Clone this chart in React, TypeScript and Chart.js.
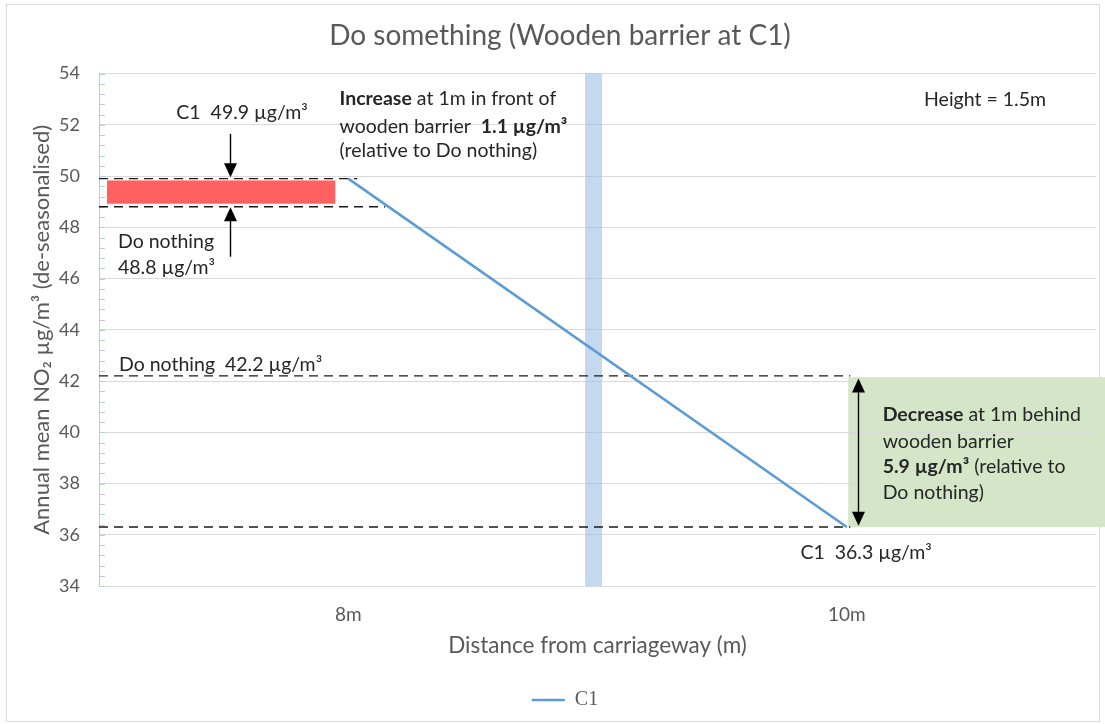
import React, { useEffect, useRef } from 'react';
import { Chart, registerables } from 'chart.js';

Chart.register(...registerables);

// ---------- data ----------
const categories = ['8m', '10m'];
const c1Values = [49.9, 36.3];
const doNothingValues = [48.8, 42.2];
const yMin = 34;
const yMax = 54;
const yStep = 2;
const yMinorStep = 0.4;

const FONT = 'Lato, "Open Sans", sans-serif';
const LEGEND_FONT = '"Liberation Serif", "DejaVu Serif", serif';
const GREY = '#595959';
const INK = '#262626';
const BLUE = '#5b9bd5';
const NOTE_SIZE = 19.5;

const fmt = (v: number) => v.toFixed(1);
const UNIT = ' µg/m³';

type Run = { t: string; b?: boolean };
type Note = { xi: number; yv: number; runs: Run[]; color?: string };

const increase = c1Values[0] - doNothingValues[0];
const decrease = doNothingValues[1] - c1Values[1];

const notes: Note[] = [
  { xi: -0.345, yv: 52.48, runs: [{ t: `C1  ${fmt(c1Values[0])}${UNIT}` }] },
  { xi: -0.462, yv: 47.44, runs: [{ t: 'Do nothing' }] },
  { xi: -0.462, yv: 46.42, runs: [{ t: `${fmt(doNothingValues[0])}${UNIT}` }] },
  { xi: -0.0175, yv: 53.02, runs: [{ t: 'Increase', b: true }, { t: ' at 1m in front of' }] },
  { xi: -0.0175, yv: 51.93, runs: [{ t: 'wooden barrier  ' }, { t: `${fmt(increase)}${UNIT}`, b: true }] },
  { xi: -0.0175, yv: 50.99, runs: [{ t: '(relative to Do nothing)' }] },
  { xi: 1.155, yv: 52.98, runs: [{ t: 'Height = 1.5m' }] },
  { xi: -0.46, yv: 42.63, runs: [{ t: `Do nothing  ${fmt(doNothingValues[1])}${UNIT}` }] },
  { xi: 1.072, yv: 40.68, runs: [{ t: 'Decrease', b: true }, { t: ' at 1m behind' }] },
  { xi: 1.072, yv: 39.63, runs: [{ t: 'wooden barrier' }] },
  { xi: 1.072, yv: 38.65, runs: [{ t: `${fmt(decrease)}${UNIT}`, b: true }, { t: ' (relative to' }] },
  { xi: 1.072, yv: 37.63, runs: [{ t: 'Do nothing)' }] },
  { xi: 0.907, yv: 35.29, runs: [{ t: `C1  ${fmt(c1Values[1])}${UNIT}` }] },
];

// dashed reference lines: value, end (category index)
const refLines = [
  { v: c1Values[0], end: 0.018 },
  { v: doNothingValues[0], end: 0.074 },
  { v: doNothingValues[1], end: 1.007 },
  { v: c1Values[1], end: 1.007 },
];

function drawRuns(ctx: CanvasRenderingContext2D, runs: Run[], x: number, y: number, size: number, color: string) {
  let cx = x;
  ctx.textBaseline = 'middle';
  ctx.textAlign = 'left';
  ctx.fillStyle = color;
  for (const r of runs) {
    ctx.font = `${r.b ? 'bold ' : ''}${size}px ${FONT}`;
    ctx.fillText(r.t, cx, y);
    cx += ctx.measureText(r.t).width;
  }
}

function arrowHead(ctx: CanvasRenderingContext2D, x: number, tipY: number, dir: number) {
  const w = 6.5;
  const l = 14;
  ctx.beginPath();
  ctx.moveTo(x, tipY);
  ctx.lineTo(x - w, tipY - dir * l);
  ctx.lineTo(x + w, tipY - dir * l);
  ctx.closePath();
  ctx.fill();
}

const annotationPlugin = {
  id: 'annotations',
  afterLayout(chart: any) {
    const lg = chart.legend;
    if (lg) { lg.left += 13; lg.right += 13; }
    const tb = chart.titleBlock;
    if (tb) { tb.left += 8; tb.right += 8; }
  },
  beforeDraw(chart: any) {
    const { ctx, scales, width } = chart;
    const x = scales.x, y = scales.y;
    ctx.save();
    ctx.fillStyle = '#ffffff';
    ctx.fillRect(0, 0, chart.width, chart.height);
    // outer frame
    ctx.strokeStyle = '#d9d9d9';
    ctx.lineWidth = 1;
    ctx.strokeRect(6.5, 4.5, 1093, 717);
    // green decrease box
    const gx = x.getPixelForValue(1.003);
    const gt = y.getPixelForValue(doNothingValues[1] - 0.05);
    const gb = y.getPixelForValue(c1Values[1]);
    ctx.fillStyle = '#d4e6c7';
    ctx.fillRect(gx, gt, width - gx, gb - gt);
    ctx.restore();
  },
  beforeDatasetsDraw(chart: any) {
    const { ctx, scales, chartArea } = chart;
    const x = scales.x, y = scales.y;
    ctx.save();
    // minor ticks on y axis
    ctx.strokeStyle = '#b9cde2';
    ctx.lineWidth = 1;
    for (let v = yMin; v <= yMax + 1e-6; v += yMinorStep) {
      const py = Math.round(y.getPixelForValue(v)) + 0.5;
      ctx.beginPath();
      ctx.moveTo(chartArea.left, py);
      ctx.lineTo(chartArea.left + 6, py);
      ctx.stroke();
    }
    // barrier band
    const b0 = x.getPixelForValue(0.475);
    const b1 = x.getPixelForValue(0.509);
    ctx.fillStyle = 'rgba(157, 192, 228, 0.6)';
    ctx.fillRect(b0, chartArea.top, b1 - b0, chartArea.bottom - chartArea.top);
    // red increase box
    const r0 = x.getPixelForValue(-0.484);
    const r1 = x.getPixelForValue(-0.026);
    const rt = y.getPixelForValue(c1Values[0] - 0.07);
    const rb = y.getPixelForValue(doNothingValues[0] + 0.12);
    ctx.fillStyle = '#ff6161';
    ctx.fillRect(r0, rt, r1 - r0, rb - rt);
    // dashed lines
    ctx.strokeStyle = '#1a1a1a';
    ctx.lineWidth = 1.4;
    ctx.setLineDash([9, 6]);
    for (const l of refLines) {
      const py = y.getPixelForValue(l.v);
      ctx.beginPath();
      ctx.moveTo(chartArea.left, py);
      ctx.lineTo(x.getPixelForValue(l.end), py);
      ctx.stroke();
    }
    ctx.restore();
  },
  afterDatasetsDraw(chart: any) {
    const { ctx, scales } = chart;
    const x = scales.x, y = scales.y;
    ctx.save();
    ctx.strokeStyle = '#000';
    ctx.fillStyle = '#000';
    ctx.lineWidth = 1.4;
    // arrow down to C1 at 8m
    const ax = Math.round(x.getPixelForValue(-0.237)) + 0.5;
    let t = y.getPixelForValue(c1Values[0] + 0.05);
    ctx.beginPath();
    ctx.moveTo(ax, y.getPixelForValue(51.65));
    ctx.lineTo(ax, t - 10);
    ctx.stroke();
    arrowHead(ctx, ax, t, 1);
    // arrow up to Do nothing at 8m
    t = y.getPixelForValue(doNothingValues[0] - 0.02);
    ctx.beginPath();
    ctx.moveTo(ax, y.getPixelForValue(46.85));
    ctx.lineTo(ax, t + 10);
    ctx.stroke();
    arrowHead(ctx, ax, t, -1);
    // double arrow at 10m
    const dx = Math.round(x.getPixelForValue(1.022)) + 0.5;
    const dt = y.getPixelForValue(doNothingValues[1] - 0.1);
    const db = y.getPixelForValue(c1Values[1] + 0.05);
    ctx.beginPath();
    ctx.moveTo(dx, dt + 10);
    ctx.lineTo(dx, db - 10);
    ctx.stroke();
    arrowHead(ctx, dx, dt, -1);
    arrowHead(ctx, dx, db, 1);
    // texts
    for (const n of notes) {
      drawRuns(ctx, n.runs, x.getPixelForValue(n.xi), y.getPixelForValue(n.yv), NOTE_SIZE, n.color || INK);
    }
    ctx.restore();
  },
};

export default function App() {
  const ref = useRef<HTMLCanvasElement | null>(null);
  useEffect(() => {
    if (!ref.current) return;
    const chart = new Chart(ref.current, {
      type: 'line',
      data: {
        labels: categories,
        datasets: [
          {
            label: 'C1',
            data: c1Values,
            borderColor: BLUE,
            backgroundColor: BLUE,
            borderWidth: 2.5,
            pointRadius: 0,
            pointHoverRadius: 0,
            pointStyle: 'line',
            tension: 0,
          },
        ],
      },
      options: {
        responsive: false,
        animation: false,
        events: [],
        layout: { padding: { left: 8, right: 9, top: 0, bottom: 4 } },
        font: { family: FONT },
        plugins: {
          title: {
            display: true,
            text: 'Do something (Wooden barrier at C1)',
            color: GREY,
            font: { family: FONT, size: 28, weight: 'normal' },
            padding: { top: 19, bottom: 21 },
          },
          legend: {
            position: 'bottom',
            labels: {
              usePointStyle: true,
              pointStyle: 'line',
              pointStyleWidth: 33,
              color: GREY,
              font: { family: LEGEND_FONT, size: 20 },
              padding: 10,
            },
          },
          tooltip: { enabled: false },
        },
        scales: {
          x: {
            type: 'category',
            offset: true,
            grid: { display: false, drawTicks: false },
            border: { display: false },
            ticks: { color: GREY, font: { family: FONT, size: 19 }, padding: 17.5 },
            title: {
              display: true,
              text: 'Distance from carriageway (m)',
              color: GREY,
              font: { family: FONT, size: 22.5 },
              padding: { top: 0, bottom: 20.5 },
            },
            afterFit: (s: any) => { s.height = 94; },
          },
          y: {
            min: yMin,
            max: yMax,
            ticks: { stepSize: yStep, color: GREY, font: { family: FONT, size: 18 }, padding: 19 },
            grid: { color: '#d9d9d9', drawTicks: false, lineWidth: 1 },
            border: { display: true, color: '#b9cde2', width: 1 },
            title: {
              display: true,
              text: 'Annual mean NO₂ µg/m³ (de-seasonalised)',
              color: GREY,
              font: { family: FONT, size: 22 },
              padding: { top: 20.8, bottom: 0 },
            },
            afterFit: (s: any) => { s.width = 91; },
          },
        },
      } as any,
      plugins: [annotationPlugin as any],
    });
    return () => chart.destroy();
  }, []);
  return (
    <div style={{ position: 'fixed', left: 0, top: 0, width: 1105, height: 724, background: '#fff' }}>
      <canvas ref={ref} width={1105} height={724} />
    </div>
  );
}
